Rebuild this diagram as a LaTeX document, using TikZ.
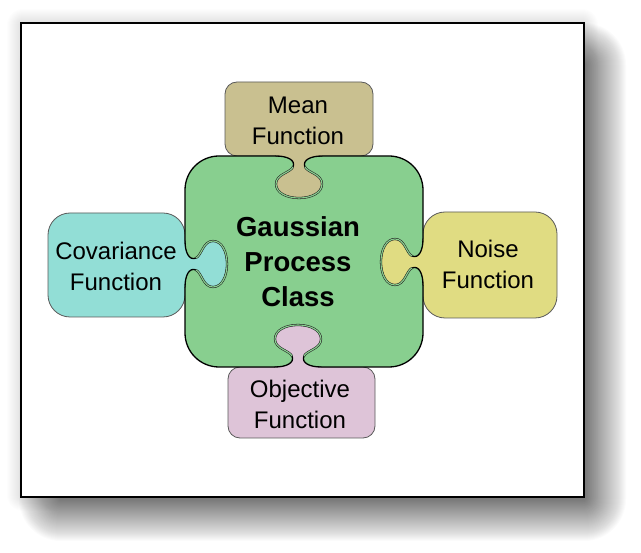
\documentclass[tikz,border=0pt]{standalone}
\usepackage{fontspec}
\setmainfont{Liberation Sans}
\definecolor{gpgreen}{RGB}{136,207,143}
\definecolor{meanc}{RGB}{201,192,144}
\definecolor{covc}{RGB}{146,222,214}
\definecolor{noisec}{RGB}{224,220,130}
\definecolor{objc}{RGB}{222,196,216}
\definecolor{tabline}{RGB}{90,90,90}
\newcommand\notchpath{(-23,0) .. controls (-12,0) and (-3,4) .. (-6,11) .. controls (-9,17) and (-23,18) .. (-23,28) .. controls (-23,37) and (-12,42) .. (0,42) .. controls (12,42) and (23,37) .. (23,28) .. controls (23,18) and (9,17) .. (6,11) .. controls (3,4) and (12,0) .. (23,0)}
\newcommand\bulbpath{(-6,11) .. controls (-9,17) and (-23,18) .. (-23,28) .. controls (-23,37) and (-12,42) .. (0,42) .. controls (12,42) and (23,37) .. (23,28) .. controls (23,18) and (9,17) .. (6,11)}
\newcommand\puzzlenotch[4]{%
  \begin{scope}[shift={(#1,#2)}, rotate=#3]
    \fill[#4] \notchpath -- (23,-2.5) -- (-23,-2.5) -- cycle;
    \draw[black, line width=1.3pt, line cap=round] \notchpath;
    \draw[bulbline] \bulbpath;
  \end{scope}}
\tikzset{
  tabbox/.style={draw=tabline, line width=0.8pt},
  gpbox/.style={draw=black, line width=1.3pt, fill=gpgreen, rounded corners=34pt},
  bulbline/.style={draw=black!85, line width=0.55pt, double=gpgreen, double distance=1.1pt},
  lbl/.style={align=center, inner sep=0pt, text=black, font=\fontsize{24}{31}\selectfont},
  framebox/.style={draw=black, line width=2pt, fill=white}
}
\begin{document}
\begin{tikzpicture}[x=1pt,y=-1pt]
\useasboundingbox (0,0) rectangle (641,553);
% faint halo
\foreach \e in {1,...,14}{
  \fill[black, opacity=0.006, rounded corners={\e*1pt+2pt}]
    ({21-\e},{23-\e}) rectangle ({584+\e},{497+\e});
}
% offset blurred shadow
\foreach \e in {-18,...,22}{
  \fill[black, opacity=0.017, rounded corners={\e*1pt+20pt}]
    ({41-\e},{45-\e}) rectangle ({604+\e},{519+\e});
}
% frame
\draw[framebox] (21,23) rectangle (584,497);
% tabs
\draw[tabbox, fill=meanc, rounded corners=12pt] (225,82) rectangle (373,156);
\draw[tabbox, fill=covc, rounded corners=22pt] (48,213) rectangle (185,317);
\draw[tabbox, fill=noisec, rounded corners=22pt] (423,212) rectangle (557,318);
\draw[tabbox, fill=objc, rounded corners=12pt] (228,367) rectangle (375,438);
% central piece
\draw[gpbox] (185,156) rectangle (423,367);
% notches
\puzzlenotch{299}{156}{0}{meanc}
\puzzlenotch{423}{262}{-90}{noisec}
\puzzlenotch{298}{367}{180}{objc}
\puzzlenotch{185}{264}{90}{covc}
% labels
\node[lbl] (mean) at (298,121) {Mean\\Function};
\node[lbl] (cov) at (116,266.5) {Covariance\\Function};
\node[lbl] (noise) at (488,264) {Noise\\Function};
\node[lbl] (obj) at (300,404) {Objective\\Function};
\node[lbl, font=\fontsize{27.5}{35}\selectfont\bfseries] (gpc) at (298,262) {Gaussian\\Process\\Class};
\end{tikzpicture}
\end{document}
